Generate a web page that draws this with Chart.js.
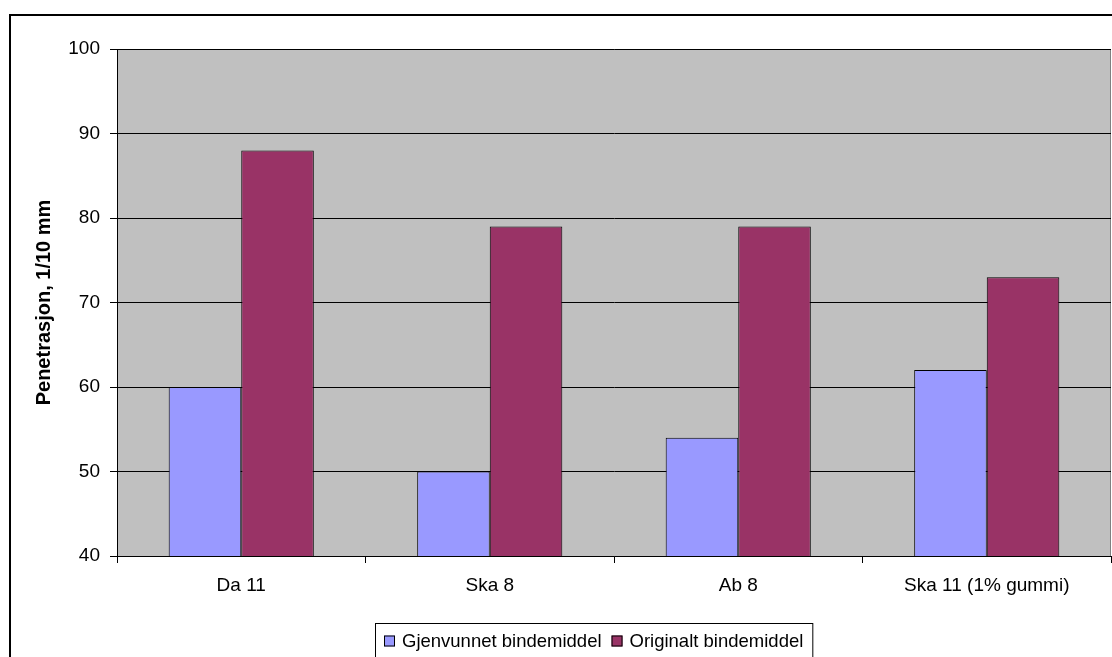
<!DOCTYPE html>
<html>
<head>
<meta charset="utf-8">
<script src="https://cdn.jsdelivr.net/npm/chart.js@4/dist/chart.umd.min.js"></script>
<style>
  html, body { margin: 0; padding: 0; background: #ffffff; }
  #wrap { width: 1112px; height: 657px; position: relative; }
</style>
</head>
<body>
<div id="wrap"><canvas id="c"></canvas></div>
<script>
// Penetration of recovered vs. original binder per mix
const categories = ['Da 11', 'Ska 8', 'Ab 8', 'Ska 11 (1% gummi)'];
const gjenvunnet = [60, 50, 54, 62];
const originalt = [88, 79, 79, 73];
const seriesNames = ['Gjenvunnet bindemiddel', 'Originalt bindemiddel'];
const seriesColors = ['#9999FF', '#993366'];
const yMin = 40, yMax = 100, yStep = 10;

const FONT = 'Arial, "Liberation Sans", sans-serif';

// Grey plot background with a thin frame, plus the outer chart border
const plotFrame = {
  id: 'plotFrame',
  beforeDraw(chart) {
    const { ctx, chartArea: a } = chart;
    ctx.save();
    ctx.fillStyle = '#C0C0C0';
    ctx.fillRect(a.left, a.top, a.right - a.left, a.bottom - a.top);
    ctx.strokeStyle = '#808080';
    ctx.lineWidth = 1;
    ctx.beginPath();
    ctx.moveTo(a.left, a.top + 0.5);
    ctx.lineTo(a.right - 0.5, a.top + 0.5);
    ctx.lineTo(a.right - 0.5, a.bottom);
    ctx.stroke();
    // outer border (runs past the right and bottom edges)
    ctx.strokeStyle = '#000000';
    ctx.lineWidth = 2;
    ctx.strokeRect(10, 15, 1200, 800);
    ctx.restore();
  }
};

// Boxed legend below the category axis
const boxedLegend = {
  id: 'boxedLegend',
  afterDraw(chart) {
    const { ctx } = chart;
    const ds = chart.data.datasets;
    ctx.save();
    ctx.font = '18.5px ' + FONT;
    ctx.textBaseline = 'middle';
    const sw = 11, gap = 7, itemGap = 10, padL = 9, padR = 9;
    let w = padL;
    ds.forEach((d, i) => {
      w += sw + gap + ctx.measureText(d.label).width + (i < ds.length - 1 ? itemGap : 0);
    });
    w += padR;
    const left = 375, top = 623, h = 40;
    ctx.fillStyle = '#ffffff';
    ctx.fillRect(left, top, w, h);
    ctx.strokeStyle = '#000000';
    ctx.lineWidth = 1;
    ctx.strokeRect(left + 0.5, top + 0.5, w, h);
    const cy = 641;
    let x = left + padL;
    ds.forEach((d) => {
      ctx.fillStyle = d.backgroundColor;
      ctx.fillRect(x, cy - sw / 2, sw, sw);
      ctx.strokeStyle = '#000000';
      ctx.strokeRect(x + 0.5, cy - sw / 2 + 0.5, sw - 1, sw - 1);
      x += sw + gap;
      ctx.fillStyle = '#000000';
      ctx.fillText(d.label, x, cy + 1);
      x += ctx.measureText(d.label).width + itemGap;
    });
    ctx.restore();
  }
};

new Chart(document.getElementById('c'), {
  type: 'bar',
  data: {
    labels: categories,
    datasets: [
      { label: seriesNames[0], data: gjenvunnet, backgroundColor: seriesColors[0], borderColor: '#000000', borderWidth: 1 },
      { label: seriesNames[1], data: originalt, backgroundColor: seriesColors[1], borderColor: '#000000', borderWidth: 1 }
    ]
  },
  options: {
    responsive: true,
    maintainAspectRatio: false,
    animation: false,
    layout: { padding: { left: 0, top: 49, right: 1, bottom: 0 } },
    datasets: { bar: { categoryPercentage: 0.584, barPercentage: 1 } },
    plugins: {
      legend: { display: false },
      tooltip: { enabled: false }
    },
    scales: {
      x: {
        grid: { display: true, drawOnChartArea: false, offset: true, color: '#000000', tickLength: 7 },
        border: { color: '#000000', width: 1 },
        ticks: { color: '#000000', font: { family: FONT, size: 19 }, padding: 11, maxRotation: 0 },
        afterFit(s) { s.height = 101; }
      },
      y: {
        min: yMin, max: yMax,
        grid: { color: '#000000', lineWidth: 1, tickLength: 7 },
        border: { color: '#000000', width: 1 },
        ticks: { stepSize: yStep, color: '#000000', font: { family: FONT, size: 19 }, padding: 10 },
        title: {
          display: true, text: 'Penetrasjon, 1/10 mm', color: '#000000',
          font: { family: FONT, size: 20, weight: 'bold' }, padding: { top: 32, bottom: 0 }
        },
        afterFit(s) { s.width = 117; }
      }
    }
  },
  plugins: [plotFrame, boxedLegend]
});
</script>
</body>
</html>
